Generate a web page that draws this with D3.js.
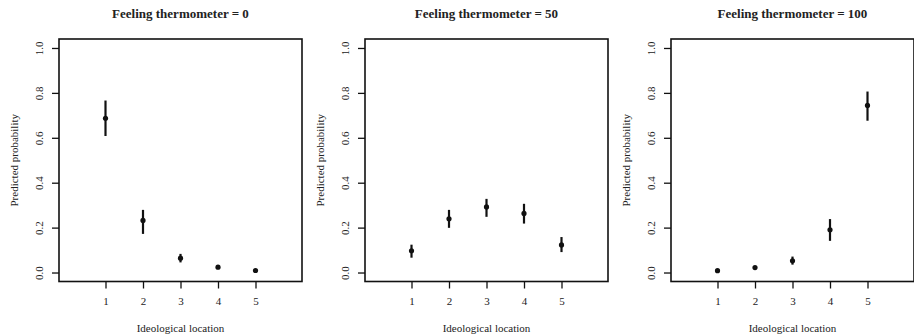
<!DOCTYPE html>
<html>
<head>
<meta charset="utf-8">
<script src="https://cdn.jsdelivr.net/npm/d3@7"></script>
<style>
  html, body { margin: 0; padding: 0; background: #fff; }
  svg text { font-family: 'Liberation Serif', 'Times New Roman', serif !important; fill: #222; }
</style>
</head>
<body>
<div id="chart"></div>
<script>
// Ideological locations on the x axis
const locations = [1, 2, 3, 4, 5];
const yTicks = [0, 0.2, 0.4, 0.6, 0.8, 1.0];

// Panel titles
const panelTitles = [
  'Feeling thermometer = 0',
  'Feeling thermometer = 50',
  'Feeling thermometer = 100',
];

// Predicted probabilities (point) and interval bounds, per panel
const thermo0Est = [0.687, 0.232, 0.064, 0.024, 0.009];
const thermo0Lo = [0.608, 0.172, 0.045, 0.018, 0.006];
const thermo0Hi = [0.766, 0.279, 0.083, 0.031, 0.012];

const thermo50Est = [0.097, 0.239, 0.292, 0.263, 0.123];
const thermo50Lo = [0.066, 0.199, 0.248, 0.218, 0.091];
const thermo50Hi = [0.124, 0.279, 0.328, 0.306, 0.158];

const thermo100Est = [0.008, 0.022, 0.052, 0.19, 0.744];
const thermo100Lo = [0.005, 0.017, 0.035, 0.141, 0.676];
const thermo100Hi = [0.011, 0.027, 0.071, 0.238, 0.806];

const panels = [
  { title: panelTitles[0], est: thermo0Est, lo: thermo0Lo, hi: thermo0Hi },
  { title: panelTitles[1], est: thermo50Est, lo: thermo50Lo, hi: thermo50Hi },
  { title: panelTitles[2], est: thermo100Est, lo: thermo100Lo, hi: thermo100Hi },
];

const totalWidth = 914;
const totalHeight = 336;
const boxLefts = [59, 365, 671];
const boxWidth = 243;
const boxTop = 39;
const boxBottom = 281.5;

const svg = d3
  .select('#chart')
  .append('svg')
  .attr('width', totalWidth)
  .attr('height', totalHeight);

panels.forEach((panel, i) => {
  const left = boxLefts[i];
  const data = locations.map((loc, j) => ({
    loc,
    est: panel.est[j],
    lo: panel.lo[j],
    hi: panel.hi[j],
  }));

  // R style: xlim 0..6, ylim 0..1, with 4% padding
  const xScale = d3.scaleLinear().domain([-0.24, 6.24]).range([left, left + boxWidth]);
  const yScale = d3.scaleLinear().domain([-0.04, 1.04]).range([boxBottom, boxTop]);

  const g = svg.append('g');

  // Plot box
  g.append('rect')
    .attr('x', left)
    .attr('y', boxTop)
    .attr('width', boxWidth)
    .attr('height', boxBottom - boxTop)
    .attr('fill', 'none')
    .attr('stroke', '#111')
    .attr('stroke-width', 1.6);

  // Render x axis
  const xAxis = g
    .append('g')
    .attr('transform', `translate(0, ${boxBottom})`)
    .call(d3.axisBottom(xScale).tickValues(locations).tickSize(7).tickPadding(9).tickFormat(d3.format('d')));
  xAxis.attr('font-family', null);
  xAxis.select('.domain').remove();
  xAxis.selectAll('.tick line').attr('stroke', '#111').attr('stroke-width', 1.3);
  xAxis.selectAll('text').attr('font-size', 11).attr('fill', '#222');

  // Render y axis with rotated labels
  const yAxis = g
    .append('g')
    .attr('transform', `translate(${left}, 0)`)
    .call(d3.axisLeft(yScale).tickValues(yTicks).tickSize(7).tickFormat(d3.format('.1f')));
  yAxis.attr('font-family', null);
  yAxis.select('.domain').remove();
  yAxis.selectAll('.tick line').attr('stroke', '#111').attr('stroke-width', 1.3);
  yAxis
    .selectAll('text')
    .attr('x', null)
    .attr('dy', null)
    .attr('transform', 'translate(-16, 0) rotate(-90)')
    .attr('text-anchor', 'middle')
    .attr('font-size', 11)
    .attr('fill', '#222');

  // Title
  g.append('text')
    .attr('x', left + boxWidth / 2)
    .attr('y', 18)
    .attr('text-anchor', 'middle')
    .attr('font-size', 13)
    .attr('font-weight', 'bold')
    .text(panel.title);

  // x axis label
  g.append('text')
    .attr('x', left + boxWidth / 2)
    .attr('y', 332)
    .attr('text-anchor', 'middle')
    .attr('font-size', 11)
    .text('Ideological location');

  // y axis label
  g.append('text')
    .attr('transform', `translate(${left - 41}, ${(boxTop + boxBottom) / 2}) rotate(-90)`)
    .attr('text-anchor', 'middle')
    .attr('font-size', 11)
    .text('Predicted probability');

  // Error bars
  g.selectAll('line.err')
    .data(data)
    .join('line')
    .attr('class', 'err')
    .attr('x1', (d) => xScale(d.loc))
    .attr('x2', (d) => xScale(d.loc))
    .attr('y1', (d) => yScale(d.lo))
    .attr('y2', (d) => yScale(d.hi))
    .attr('stroke', '#111')
    .attr('stroke-width', 2.2);

  // Point estimates
  g.selectAll('circle.est')
    .data(data)
    .join('circle')
    .attr('class', 'est')
    .attr('cx', (d) => xScale(d.loc))
    .attr('cy', (d) => yScale(d.est))
    .attr('r', 2.6)
    .attr('fill', '#111');
});
</script>
</body>
</html>
